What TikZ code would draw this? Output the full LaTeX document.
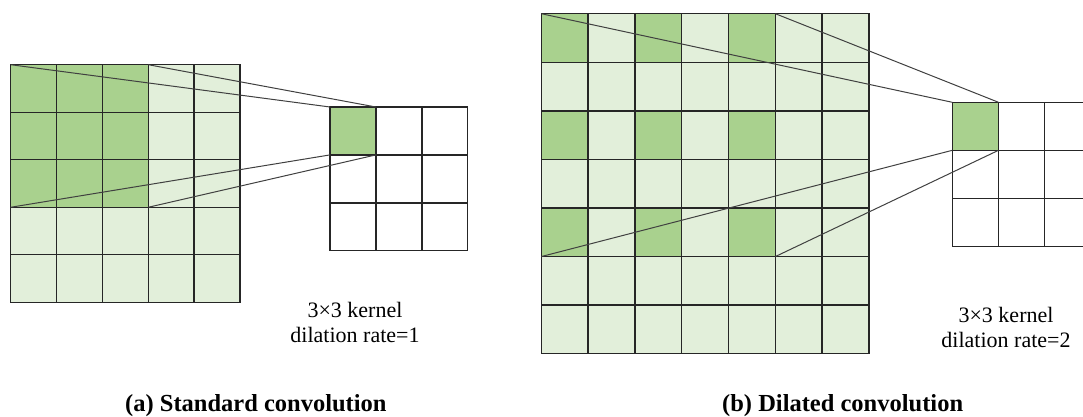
\documentclass[tikz,border=0pt]{standalone}
\usepackage{fontspec}
\setmainfont{Liberation Serif}
\definecolor{darkgreen}{HTML}{A9D18E}
\definecolor{lightgreen}{HTML}{E2EFDA}
\begin{document}
\begin{tikzpicture}[x=1pt,y=-1pt,
  cell/.style={draw=black!85, line width=1.4pt, inner sep=0pt, outer sep=0pt, anchor=north west},
  conn/.style={draw=black!75, line width=1pt},
  lbl/.style={font=\fontsize{22}{26}\selectfont, inner sep=0pt, anchor=base},
  captext/.style={font=\fontsize{24.5}{28}\selectfont\bfseries, inner sep=0pt, anchor=base west}]
\useasboundingbox (0,0) rectangle (1083,416);
\clip (0,0) rectangle (1083,416);

% (a) input 5x5
\foreach \r in {1,...,5}{\foreach \c in {1,...,5}{
  \pgfmathtruncatemacro\isdark{and(\r<4,\c<4)}
  \ifnum\isdark=1 \def\col{darkgreen}\else\def\col{lightgreen}\fi
  \node[cell, fill=\col, minimum width=45.86pt, minimum height=47.52pt]
    (A-\r-\c) at ({10.7+(\c-1)*45.86},{64.7+(\r-1)*47.52}) {};
}}
% (a) kernel 3x3
\foreach \r in {1,...,3}{\foreach \c in {1,...,3}{
  \pgfmathtruncatemacro\isdark{and(\r<2,\c<2)}
  \ifnum\isdark=1 \def\col{darkgreen}\else\def\col{white}\fi
  \node[cell, fill=\col, minimum width=45.9pt, minimum height=47.9pt]
    (AK-\r-\c) at ({330+(\c-1)*45.9},{107+(\r-1)*47.9}) {};
}}
\draw[conn] (A-1-1.north west) -- (AK-1-1.north west);
\draw[conn] (A-1-3.north east) -- (AK-1-1.north east);
\draw[conn] (A-3-1.south west) -- (AK-1-1.south west);
\draw[conn] (A-3-3.south east) -- (AK-1-1.south east);

% (b) input 7x7
\foreach \r in {1,...,7}{\foreach \c in {1,...,7}{
  \pgfmathtruncatemacro\isdark{and(and(mod(\r,2)==1,\r<6),and(mod(\c,2)==1,\c<6))}
  \ifnum\isdark=1 \def\col{darkgreen}\else\def\col{lightgreen}\fi
  \node[cell, fill=\col, minimum width=46.81pt, minimum height=48.57pt]
    (B-\r-\c) at ({541.3+(\c-1)*46.81},{13.7+(\r-1)*48.57}) {};
}}
% (b) kernel 3x3
\foreach \r in {1,...,3}{\foreach \c in {1,...,3}{
  \pgfmathtruncatemacro\isdark{and(\r<2,\c<2)}
  \ifnum\isdark=1 \def\col{darkgreen}\else\def\col{white}\fi
  \node[cell, fill=\col, minimum width=46.2pt, minimum height=48pt]
    (BK-\r-\c) at ({952.3+(\c-1)*46.2},{102.3+(\r-1)*48}) {};
}}
\draw[conn] (B-1-1.north west) -- (BK-1-1.north west);
\draw[conn] (B-1-5.north east) -- (BK-1-1.north east);
\draw[conn] (B-5-1.south west) -- (BK-1-1.south west);
\draw[conn] (B-5-5.south east) -- (BK-1-1.south east);

% labels
\node[lbl] (kernA) at (355,317) {3×3 kernel};
\node[lbl] (rateA) at (355,342) {dilation rate=1};
\node[lbl] (kernB) at (1006,322) {3×3 kernel};
\node[lbl] (rateB) at (1006,347) {dilation rate=2};
\node[captext] (capA) at (125,411) {(a) Standard convolution};
\node[captext] (capB) at (722,411) {(b) Dilated convolution};
\end{tikzpicture}
\end{document}
